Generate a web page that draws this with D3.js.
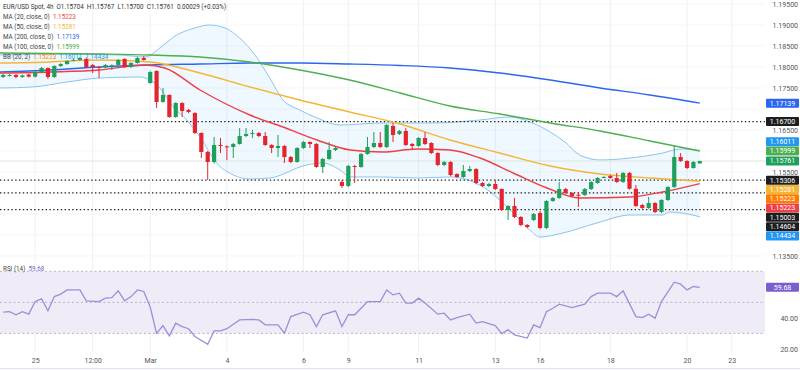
<!DOCTYPE html>
<html>
<head>
<meta charset="utf-8">
<script src="https://cdn.jsdelivr.net/npm/d3@7"></script>
<style>
  body { margin: 0; background: #fff; }
  svg { display: block; font-family: Roboto, "Open Sans", sans-serif; }
</style>
</head>
<body>
<div id="chart"></div>
<script>
// EUR/USD 4h candles, [open, high, low, close]
const candles = [
  [1.17762,1.17840,1.17740,1.17810],[1.17800,1.17850,1.17770,1.17810],[1.17810,1.17830,1.17730,1.17762],
  [1.17762,1.17820,1.17740,1.17800],[1.17820,1.17840,1.17750,1.17770],[1.17770,1.17900,1.17750,1.17881],
  [1.17881,1.18000,1.17860,1.17976],[1.17976,1.17990,1.17714,1.17762],[1.17762,1.18040,1.17740,1.18024],
  [1.18024,1.18090,1.18000,1.18071],[1.18071,1.18160,1.18050,1.18143],[1.18160,1.18190,1.18140,1.18170],
  [1.18167,1.18240,1.18150,1.18214],[1.18190,1.18230,1.17980,1.18000],[1.18048,1.18070,1.17857,1.18000],
  [1.18000,1.18020,1.17738,1.17990],[1.17990,1.18070,1.17970,1.18048],[1.18030,1.18060,1.17929,1.18040],
  [1.18048,1.18190,1.18020,1.18167],[1.18190,1.18210,1.17980,1.18000],[1.18000,1.18110,1.17976,1.18095],
  [1.18095,1.18240,1.18080,1.18214],[1.18214,1.18262,1.18150,1.18167],[1.17619,1.17900,1.17600,1.17881],
  [1.17905,1.17920,1.17024,1.17167],[1.17167,1.17500,1.17150,1.17333],[1.17333,1.17350,1.16790,1.16810],
  [1.16810,1.17160,1.16790,1.17143],[1.17143,1.17160,1.16810,1.16952],[1.16976,1.17000,1.16900,1.16929],
  [1.16905,1.16920,1.16400,1.16429],[1.16429,1.16440,1.15833,1.15976],[1.15976,1.16000,1.15310,1.15738],
  [1.15738,1.16333,1.15700,1.16143],[1.16143,1.16310,1.15952,1.16119],[1.16110,1.16130,1.15786,1.16095],
  [1.16095,1.16190,1.15833,1.16167],[1.16167,1.16548,1.16150,1.16357],[1.16357,1.16548,1.16330,1.16405],
  [1.16420,1.16500,1.16310,1.16429],[1.16429,1.16450,1.16330,1.16357],[1.16357,1.16452,1.16120,1.16143],
  [1.16143,1.16160,1.15950,1.16071],[1.16071,1.16381,1.15857,1.16119],[1.16119,1.16140,1.15714,1.15857],
  [1.15857,1.15880,1.15710,1.15738],[1.15738,1.16090,1.15720,1.16071],[1.16071,1.16240,1.16050,1.16214],
  [1.16214,1.16230,1.16071,1.16167],[1.16167,1.16190,1.15600,1.15619],[1.15619,1.15830,1.15476,1.15810],
  [1.15810,1.16214,1.15790,1.16024],[1.16024,1.16100,1.16000,1.16071],[1.15262,1.15310,1.15119,1.15167],
  [1.15167,1.15670,1.15140,1.15643],[1.15643,1.15670,1.15238,1.15619],[1.15619,1.15950,1.15600,1.15929],
  [1.15929,1.16333,1.15910,1.16095],[1.16095,1.16452,1.16070,1.16190],[1.16190,1.16452,1.16070,1.16095],
  [1.16095,1.16640,1.16070,1.16619],[1.16595,1.16667,1.16214,1.16381],[1.16405,1.16500,1.16380,1.16476],
  [1.16476,1.16548,1.16120,1.16143],[1.16167,1.16190,1.16048,1.16119],[1.16119,1.16330,1.16100,1.16310],
  [1.16310,1.16452,1.16140,1.16167],[1.16190,1.16210,1.15930,1.15952],[1.15952,1.15970,1.15640,1.15667],
  [1.15667,1.15760,1.15640,1.15738],[1.15738,1.15760,1.15400,1.15429],[1.15452,1.15470,1.15360,1.15381],
  [1.15381,1.15667,1.15360,1.15524],[1.15524,1.15643,1.15500,1.15571],[1.15571,1.15590,1.15210,1.15238],
  [1.15238,1.15260,1.15140,1.15167],[1.15167,1.15240,1.15140,1.15214],[1.15214,1.15310,1.15070,1.15095],
  [1.15095,1.15110,1.14570,1.14595],[1.14595,1.14710,1.14357,1.14690],[1.14690,1.14881,1.14400,1.14429],
  [1.14429,1.14450,1.14210,1.14238],[1.14238,1.14260,1.14160,1.14190],[1.14357,1.14520,1.14330,1.14500],
  [1.14524,1.14571,1.14140,1.14167],[1.14167,1.14830,1.14140,1.14810],[1.14810,1.14900,1.14790,1.14881],
  [1.14881,1.15262,1.14860,1.15095],[1.15095,1.15120,1.14980,1.15000],[1.15000,1.15020,1.14900,1.14929],
  [1.14960,1.15024,1.14667,1.14952],[1.14952,1.15120,1.14930,1.15095],[1.15095,1.15280,1.15070,1.15262],
  [1.15238,1.15380,1.15220,1.15357],[1.15370,1.15400,1.15350,1.15381],[1.15405,1.15430,1.15340,1.15357],
  [1.15357,1.15476,1.15240,1.15262],[1.15262,1.15500,1.15240,1.15476],[1.15476,1.15500,1.15080,1.15100],
  [1.15100,1.15190,1.14670,1.14690],[1.14714,1.14740,1.14620,1.14643],[1.14643,1.14905,1.14620,1.14762],
  [1.14762,1.14780,1.14520,1.14548],[1.14548,1.14850,1.14520,1.14833],[1.14833,1.15160,1.14810,1.15143],
  [1.15143,1.16119,1.15120,1.15857],[1.15857,1.15952,1.15740,1.15762],[1.15762,1.15780,1.15570,1.15595],
  [1.15595,1.15760,1.15580,1.15738],[1.15704,1.15767,1.15700,1.15761]
]

// overlays, [candle index, value]
const ma20 = [[-0.5,1.17857],[7.3,1.17881],[15.1,1.17929],[22.2,1.18048],[25.3,1.17976],[30.8,1.17452],
  [38.6,1.16857],[43.8,1.16571],[49.1,1.16262],[54.3,1.16024],[59.4,1.15976],[64.7,1.16048],[69.9,1.16024],
  [74.6,1.15833],[79.8,1.15476],[85.1,1.15119],[90.2,1.14881],[98.1,1.14905],[103.2,1.15024],[109,1.15223]]
const ma50 = [[-0.5,1.18095],[7.3,1.18119],[15.1,1.18167],[23,1.18119],[30.8,1.17857],[38.6,1.17524],
  [46.4,1.17214],[54.2,1.16929],[62.1,1.16643],[69.9,1.16262],[77.7,1.15952],[85.6,1.15643],
  [93.4,1.15452],[101.2,1.15357],[109,1.15281]]
const ma100 = [[-0.5,1.18333],[15.1,1.18310],[23,1.18286],[30.8,1.18238],[38.6,1.18119],[46.4,1.17929],
  [54.2,1.17690],[62.1,1.17381],[69.9,1.17071],[77.7,1.16881],[85.6,1.16667],[93.4,1.16476],
  [101.2,1.16238],[109,1.15999]]
const ma200 = [[-0.5,1.17881],[7.3,1.17929],[15.1,1.18000],[23,1.18048],[30.8,1.18071],[38.6,1.18095],
  [46.4,1.18095],[54.2,1.18071],[62.1,1.18036],[69.9,1.17976],[77.7,1.17857],[85.6,1.17690],
  [93.4,1.17500],[101.2,1.17333],[109,1.17139]]
const bbUpper = [[-0.5,1.18286],[8.9,1.18310],[18.3,1.18286],[22.2,1.18238],[24.5,1.18452],[26.9,1.18738],
  [30,1.18929],[32.3,1.19000],[34.7,1.18929],[37,1.18690],[39.4,1.18286],[41.7,1.17738],[43.8,1.17214],
  [46.4,1.16976],[49.1,1.16786],[52.7,1.16619],[59.4,1.16667],[67.2,1.16667],[74.6,1.16738],[79.3,1.16810],
  [82.4,1.16690],[85.6,1.16452],[87.9,1.16214],[90.2,1.15905],[93.4,1.15786],[98.1,1.15833],
  [103.2,1.15952],[105.9,1.16048],[109,1.16011]]
const bbLower = [[-0.5,1.17500],[4.6,1.17524],[10,1.17643],[15.1,1.17738],[21.4,1.17762],[24.5,1.17500],
  [26.6,1.17048],[28.7,1.16738],[30.8,1.16333],[33.4,1.15714],[36,1.15429],[38.6,1.15333],[41.7,1.15357],
  [47.5,1.15667],[50,1.15714],[52.7,1.15548],[54.3,1.15381],[59.4,1.15381],[64.7,1.15357],[69.9,1.15381],
  [75.1,1.15143],[77.7,1.14833],[79.8,1.14524],[82.4,1.14119],[84,1.13952],[87.6,1.14048],[92.9,1.14286],
  [98.1,1.14476],[103.2,1.14476],[104.3,1.14548],[109,1.14434]]

const rsi = [[0,43.7],[1,44],[2,42],[3,44],[4,42.4],[5,50.5],[6,52.3],[7,44.5],[8,53.7],[9,55.3],[10,58],
  [12,58],[13,51],[15,50.5],[16,52.7],[17,53],[18,57.4],[19,51],[20,53.7],[21,58],[22,57],[23,47],[24,30],
  [25,35],[26,28.4],[27,36.6],[28,34.4],[29,33],[30,28],[32,23],[33,31.6],[34,31.6],[35,33],[37,38.7],
  [39,39],[40,38.7],[41,35.5],[43,35.5],[44,30.1],[45,40.8],[47,43.7],[48,42],[49,34.4],[50,42],[52,44.5],
  [53,34.4],[54,42],[55,42],[56,46.2],[57,50.5],[59,50.5],[60,58],[61,54.8],[62,55.9],[63,49.5],[64,49.5],
  [65,52.7],[66,49.5],[68,42.4],[69,43],[70,38.7],[71,40.2],[73,42.4],[74,36.6],[75,37.6],[77,35],[78,29.9],
  [79,32.3],[80,29],[82,27],[83,35.5],[84,33.7],[85,44],[86,46.2],[87,48.8],[89,46.6],[91,48.8],[92,53.7],
  [93,55.9],[95,55.9],[96,53.7],[97,57.4],[99,40.8],[100,40.2],[101,42.4],[102,39.8],[103,50.5],[105,63],
  [106,61.7],[107,58],[108,60.2],[109,59.68]]

const levels = [1.16700, 1.15306, 1.15003, 1.14604]
const lastPrice = 1.15761
const priceTicks = [1.195, 1.19, 1.185, 1.18, 1.175, 1.17, 1.165, 1.16, 1.155, 1.15, 1.145, 1.14, 1.135]
const rsiTicks = [20, 40, 60]
const rsiBands = [70, 50, 30]
const timeTicks = [5, 14, 23, 35, 47, 54, 65, 77, 84, 95, 107, 114]
const timeLabels = ["25", "12:00", "Mar", "4", "6", "9", "11", "13", "16", "18", "20", "23"]
const tagValues = [1.17139, 1.16700, 1.16011, 1.15999, 1.15761, 1.15306, 1.15281, 1.15223, 1.15223, 1.15003, 1.14604, 1.14434]
const tagColors = ["#2a66f0", "#1d1d1f", "#2196f3", "#4caf50", "#1f9f5b", "#1d1d1f", "#f5b534", "#ff7b00", "#ef3e44", "#1d1d1f", "#1d1d1f", "#2196f3"]

const width = 800, height = 370
const plotRight = 765
const green = "#1f9f5b", red = "#e5252e"

const x = d3.scaleLinear().domain([-0.5, 119.2]).range([0, plotRight])
const y = d3.scaleLinear().domain([1.13452, 1.19595]).range([258, 0])
const yr = d3.scaleLinear().domain([18, 76]).range([352, 262])

const svg = d3.select("#chart").append("svg")
  .attr("width", width).attr("height", height)
  .attr("viewBox", `0 0 ${width} ${height}`)

// grid
svg.append("g").selectAll("line").data(timeTicks).join("line")
  .attr("x1", d => x(d)).attr("x2", d => x(d))
  .attr("y1", 0).attr("y2", 352)
  .attr("stroke", "#f0f0f0")
svg.append("g").selectAll("line").data(priceTicks).join("line")
  .attr("x1", 0).attr("x2", plotRight)
  .attr("y1", d => y(d)).attr("y2", d => y(d))
  .attr("stroke", "#f6f6f6")

// bollinger band fill, sampled at the union of both bands' points
const lerp = (pts, t) => {
  for (let i = 1; i < pts.length; i++) {
    if (t <= pts[i][0]) {
      const a = pts[i - 1], b = pts[i]
      return a[1] + (b[1] - a[1]) * (t - a[0]) / (b[0] - a[0])
    }
  }
  return pts[pts.length - 1][1]
}
const bbIdx = Array.from(new Set(bbUpper.map(d => d[0]).concat(bbLower.map(d => d[0])))).sort((a, b) => a - b)
svg.append("path")
  .datum(bbIdx.map(t => [t, lerp(bbUpper, t), lerp(bbLower, t)]))
  .attr("d", d3.area().x(d => x(d[0])).y0(d => y(d[1])).y1(d => y(d[2])))
  .attr("fill", "#2196f3").attr("fill-opacity", 0.07)

const line = d3.line().x(d => x(d[0])).y(d => y(d[1])).curve(d3.curveMonotoneX)
;[bbUpper, bbLower].forEach(pts => {
  svg.append("path").datum(pts).attr("d", line)
    .attr("fill", "none").attr("stroke", "#8cc3ef").attr("stroke-width", 1)
})

// last price line
svg.append("line")
  .attr("x1", 0).attr("x2", plotRight)
  .attr("y1", y(lastPrice)).attr("y2", y(lastPrice))
  .attr("stroke", "#d9e6de").attr("stroke-width", 1)

// horizontal levels
svg.append("g").selectAll("line").data(levels).join("line")
  .attr("x1", 0).attr("x2", plotRight)
  .attr("y1", d => y(d)).attr("y2", d => y(d))
  .attr("stroke", "#222").attr("stroke-width", 1.4)
  .attr("stroke-dasharray", "1.4 2.4")

// moving averages
const maDefs = [[ma200, "#2a66f0"], [ma100, "#4caf50"], [ma50, "#f5b534"], [ma20, "#ef3e44"]]
maDefs.forEach(([pts, color]) => {
  svg.append("path").datum(pts).attr("d", line)
    .attr("fill", "none").attr("stroke", color).attr("stroke-width", 1.4)
})

// candles
const bodyW = 4.2
const cg = svg.append("g").selectAll("g").data(candles).join("g")
cg.append("line")
  .attr("x1", (d, i) => x(i)).attr("x2", (d, i) => x(i))
  .attr("y1", d => y(d[1])).attr("y2", d => y(d[2]))
  .attr("stroke", d => d[3] >= d[0] ? green : red).attr("stroke-width", 1)
cg.append("rect")
  .attr("x", (d, i) => x(i) - bodyW / 2).attr("width", bodyW)
  .attr("y", d => y(Math.max(d[0], d[3])))
  .attr("height", d => Math.max(1, Math.abs(y(d[0]) - y(d[3]))))
  .attr("fill", d => d[3] >= d[0] ? green : red)

// legend
const legend = [
  [["EUR/USD Spot, 4h  ", "#333"], ["O1.15704  H1.15767  L1.15700  C1.15761  0.00029 (+0.03%)", "#333"]],
  [["MA (20, close, 0)  ", "#444"], ["1.15223", "#ef3e44"]],
  [["MA (50, close, 0)  ", "#444"], ["1.15281", "#f5b534"]],
  [["MA (200, close, 0)  ", "#444"], ["1.17139", "#2a66f0"]],
  [["MA (100, close, 0)  ", "#444"], ["1.15999", "#4caf50"]],
  [["BB (20, 2)  ", "#444"], ["1.15223  ", "#ff7b00"], ["1.16011  ", "#2196f3"], ["1.14434", "#2196f3"]]
]
const lg = svg.append("g").attr("font-size", 6.3)
legend.forEach((row, r) => {
  const t = lg.append("text").attr("x", 3).attr("y", 9 + r * 10).attr("xml:space", "preserve")
  row.forEach(([s, c]) => t.append("tspan").attr("fill", c).text(s))
})

// rsi panel
svg.append("rect")
  .attr("x", 0).attr("width", plotRight)
  .attr("y", yr(70)).attr("height", yr(30) - yr(70))
  .attr("fill", "#efecf8")
svg.append("g").selectAll("line").data(rsiBands).join("line")
  .attr("x1", 0).attr("x2", plotRight)
  .attr("y1", d => yr(d)).attr("y2", d => yr(d))
  .attr("stroke", "#b8b2c8").attr("stroke-width", 1).attr("stroke-dasharray", "2 2.5")
svg.append("path").datum(rsi)
  .attr("d", d3.line().x(d => x(d[0])).y(d => yr(d[1])))
  .attr("fill", "none").attr("stroke", "#9d8ddb").attr("stroke-width", 1.3)
const rl = svg.append("text").attr("x", 3).attr("y", 271).attr("font-size", 6.3).attr("xml:space", "preserve")
rl.append("tspan").attr("fill", "#444").text("RSI (14)  ")
rl.append("tspan").attr("fill", "#7b5fd0").text("59.68")

svg.append("line").attr("x1", 0).attr("x2", width).attr("y1", 368.5).attr("y2", 368.5)
  .attr("stroke", "#e4e0f2")

// value tags on the price scale, stacked around the last price
const tags = tagValues.map((v, i) => ({ v, color: tagColors[i], y: y(v) }))
const fixed = tags.findIndex(t => t.v === lastPrice)
const gap = 9.3
for (let i = fixed - 1; i >= 0; i--) tags[i].y = Math.min(tags[i].y, tags[i + 1].y - gap)
for (let i = fixed + 1; i < tags.length; i++) tags[i].y = Math.max(tags[i].y, tags[i - 1].y + gap)
tags.push({ v: rsi[rsi.length - 1][1], color: "#7b5fd0", y: yr(rsi[rsi.length - 1][1]), rsi: true })

// axes; scale labels hidden behind a tag are dropped, as the reference shows
function styleAxis(g) {
  g.select(".domain").remove()
  g.selectAll("text").attr("fill", "#555").attr("font-size", 7)
    .attr("font-family", "Roboto, 'Open Sans', sans-serif")
}
function dropCovered(g, scale) {
  g.selectAll(".tick").filter(d => tags.some(t => Math.abs(t.y - scale(d)) < 8)).remove()
}
svg.append("g").attr("transform", "translate(798,0)")
  .call(d3.axisLeft(y).tickValues(priceTicks).tickSize(0).tickPadding(0).tickFormat(d3.format(".5f")))
  .call(styleAxis)
  .call(g => dropCovered(g, y))
svg.append("g").attr("transform", "translate(798,0)")
  .call(d3.axisLeft(yr).tickValues(rsiTicks).tickSize(0).tickPadding(0).tickFormat(d3.format(".2f")))
  .call(styleAxis)
  .call(g => dropCovered(g, yr))
svg.append("g").attr("transform", "translate(0,355)")
  .call(d3.axisBottom(x).tickValues(timeTicks).tickSize(0).tickPadding(3).tickFormat((d, i) => timeLabels[i]))
  .call(styleAxis)

const tg = svg.append("g").selectAll("g").data(tags).join("g")
tg.append("rect")
  .attr("x", 766).attr("width", 33).attr("y", d => d.y - 4.5).attr("height", 9).attr("rx", 1)
  .attr("fill", d => d.color)
tg.append("text")
  .attr("x", 782.5).attr("y", d => d.y).attr("dy", "0.35em")
  .attr("text-anchor", "middle").attr("font-size", 7).attr("fill", "#fff")
  .text(d => d.rsi ? d3.format(".2f")(d.v) : d3.format(".5f")(d.v))
</script>
</body>
</html>
